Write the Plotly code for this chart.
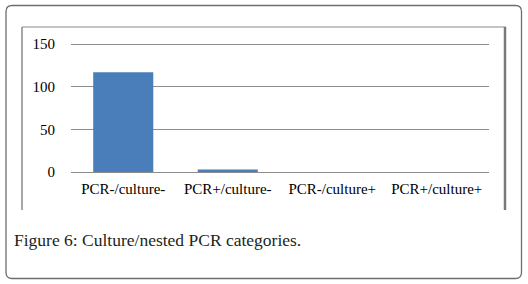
import plotly.graph_objects as go

categories = ["PCR-/culture-", "PCR+/culture-", "PCR-/culture+", "PCR+/culture+"]
counts = [117, 3, 0, 0]
y_ticks = [0, 50, 100, 150]

W, H = 528, 284
L, R, T, B = 71, 39, 43, 112
PW, PH = W - L - R, H - T - B


def X(px):
    return (px - L) / PW


def Y(py):
    return (H - B - py) / PH


def rounded_rect(x0, y0, x1, y1, r):
    return (
        f"M {X(x0 + r)} {Y(y0)} L {X(x1 - r)} {Y(y0)} "
        f"Q {X(x1)} {Y(y0)} {X(x1)} {Y(y0 + r)} "
        f"L {X(x1)} {Y(y1 - r)} Q {X(x1)} {Y(y1)} {X(x1 - r)} {Y(y1)} "
        f"L {X(x0 + r)} {Y(y1)} Q {X(x0)} {Y(y1)} {X(x0)} {Y(y1 - r)} "
        f"L {X(x0)} {Y(y0 + r)} Q {X(x0)} {Y(y0)} {X(x0 + r)} {Y(y0)} Z"
    )


fig = go.Figure(
    go.Bar(x=categories, y=counts, marker=dict(color="#4a7ebb", line=dict(width=0)), width=0.575)
)

serif = "Liberation Serif, Times New Roman, serif"

fig.update_layout(
    width=W,
    height=H,
    margin=dict(l=L, r=R, t=T, b=B, pad=0),
    paper_bgcolor="white",
    plot_bgcolor="white",
    showlegend=False,
    font=dict(family=serif, size=15, color="black"),
    xaxis=dict(
        type="category",
        showgrid=False,
        showline=True,
        linecolor="#8c8c8c",
        linewidth=1,
        ticks="",
        ticklabelstandoff=3,
        tickfont=dict(family=serif, size=15, color="black"),
    ),
    yaxis=dict(
        range=[0, 151.2],
        tickvals=y_ticks,
        showgrid=True,
        gridcolor="#8c8c8c",
        gridwidth=1,
        zeroline=False,
        showline=False,
        ticks="",
        ticklabelstandoff=15,
        tickfont=dict(family=serif, size=15, color="black"),
    ),
    shapes=[
        dict(type="path", xref="paper", yref="paper", path=rounded_rect(6, 5.5, 521.5, 278.5, 6),
             line=dict(color="#6e6e6e", width=1.3), layer="below"),
        dict(type="line", xref="paper", yref="paper", x0=X(22), x1=X(22), y0=Y(27), y1=Y(210),
             line=dict(color="#8a8a8a", width=1.5)),
        dict(type="line", xref="paper", yref="paper", x0=X(22), x1=X(506), y0=Y(27), y1=Y(27),
             line=dict(color="#8a8a8a", width=1.2)),
        dict(type="line", xref="paper", yref="paper", x0=X(505), x1=X(505), y0=Y(27), y1=Y(210),
             line=dict(color="#7a7a7a", width=2.5)),
    ],
    annotations=[
        dict(text="Figure 6: Culture/nested PCR categories.", xref="paper", yref="paper",
             x=X(12), y=Y(240), xanchor="left", yanchor="middle", showarrow=False,
             font=dict(family=serif, size=17.5, color="#231f20")),
    ],
)

fig.write_html("out.html", config={"displayModeBar": False},
               post_script="document.body.style.margin='0';")
